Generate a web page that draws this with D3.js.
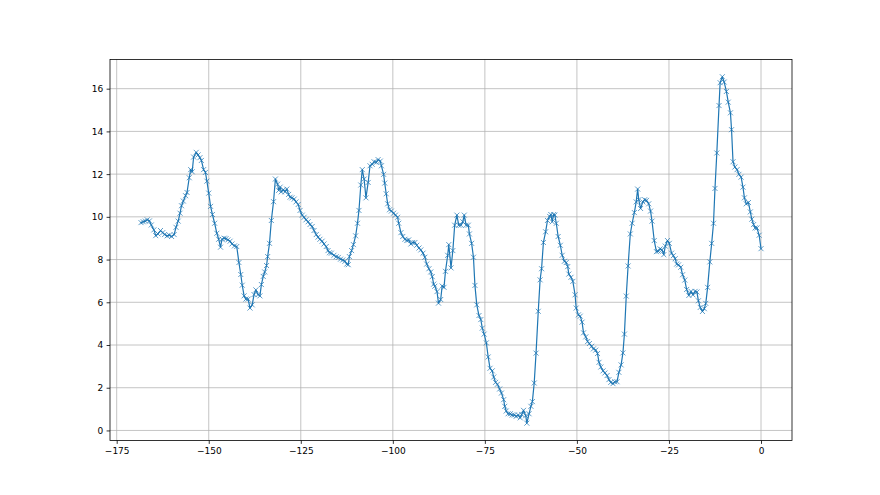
<!DOCTYPE html>
<html>
<head>
<meta charset="utf-8">
<script src="https://cdn.jsdelivr.net/npm/d3@7"></script>
<style>
  html, body { margin: 0; padding: 0; background: #fff; }
  svg { display: block; }
  .axis text { font-family: "DejaVu Sans", sans-serif; font-size: 9px; fill: #000; }
  .axis path, .axis line { stroke: #000; stroke-width: 0.8; }
  .grid line { stroke: #b0b0b0; stroke-width: 0.75; }
</style>
</head>
<body>
<div id="chart"></div>
<script>
// hours before now
var hours = [
  -168.4, -167.8, -167.2, -166.7, -166.1, -165.6, -164.9, -164.4, -163.8, -163.1,
  -162.5, -162.0, -161.3, -160.7, -160.1, -159.4, -158.9, -158.3, -157.8, -157.4,
  -156.9, -156.3, -155.9, -155.3, -154.9, -154.5, -154.1, -153.4, -152.9, -152.4,
  -152.0, -151.4, -150.9, -150.5, -150.0, -149.5, -149.0, -148.4, -147.8, -147.3,
  -146.8, -146.4, -145.8, -145.3, -144.8, -144.2, -143.7, -143.0, -142.4, -141.8,
  -141.3, -140.9, -140.4, -139.9, -139.3, -138.8, -138.2, -137.7, -137.2, -136.6,
  -136.1, -135.7, -135.2, -134.8, -134.3, -134.0, -133.5, -133.0, -132.4, -131.9,
  -131.3, -131.0, -130.6, -130.3, -129.7, -129.3, -128.8, -128.3, -127.9, -127.4,
  -126.8, -126.3, -125.7, -125.2, -124.6, -124.1, -123.6, -123.0, -122.5, -121.9,
  -121.4, -120.8, -120.3, -119.8, -119.2, -118.7, -118.1, -117.6, -117.2, -116.7,
  -116.0, -115.4, -114.8, -114.2, -113.6, -113.0, -112.5, -112.1, -111.8, -111.2,
  -110.7, -110.1, -109.6, -109.2, -108.7, -108.3, -107.8, -107.3, -106.7, -106.2,
  -105.6, -105.1, -104.5, -104.0, -103.4, -103.1, -102.5, -102.2, -101.8, -101.4,
  -100.9, -100.4, -99.8, -99.3, -98.7, -98.4, -97.8, -97.3, -96.7, -96.2,
  -95.7, -95.1, -94.6, -94.0, -93.5, -92.9, -92.4, -91.8, -91.3, -90.8,
  -90.2, -89.7, -89.3, -88.9, -88.6, -88.0, -87.6, -87.0, -86.6, -86.1,
  -85.7, -85.1, -84.8, -84.2, -83.7, -83.2, -82.6, -82.1, -81.5, -81.0,
  -80.6, -80.1, -79.5, -79.2, -78.6, -78.1, -77.7, -77.2, -76.6, -76.1,
  -75.7, -75.2, -74.6, -74.1, -73.6, -73.0, -72.6, -72.1, -71.6, -71.0,
  -70.5, -69.9, -69.6, -69.2, -68.7, -68.1, -67.6, -67.0, -66.5, -65.9,
  -65.4, -65.0, -64.5, -63.9, -63.6, -63.0, -62.5, -62.1, -61.6, -61.1,
  -60.5, -60.0, -59.6, -59.1, -58.5, -58.0, -57.4, -57.1, -56.7, -56.3,
  -56.0, -55.6, -55.1, -54.5, -54.0, -53.4, -52.9, -52.5, -52.2, -51.6,
  -51.1, -50.5, -50.2, -49.6, -49.1, -48.6, -48.2, -47.6, -47.1, -46.6,
  -46.0, -45.5, -44.9, -44.4, -44.0, -43.5, -42.9, -42.4, -41.8, -41.3,
  -40.8, -40.2, -39.7, -39.1, -38.6, -38.0, -37.5, -37.1, -36.6, -36.1,
  -35.5, -35.0, -34.4, -33.9, -33.5, -33.2, -32.7, -32.1, -31.6, -31.1,
  -30.5, -30.0, -29.6, -29.0, -28.4, -27.9, -27.4, -26.9, -26.4, -26.0,
  -25.4, -24.9, -24.3, -23.8, -23.3, -22.9, -22.4, -21.8, -21.3, -20.7,
  -20.2, -19.6, -19.0, -18.5, -17.9, -17.4, -17.0, -16.5, -15.9, -15.4,
  -15.0, -14.5, -13.9, -13.4, -12.9, -12.5, -12.0, -11.4, -11.1, -10.5,
  -10.0, -9.4, -8.9, -8.3, -8.0, -7.6, -7.1, -6.5, -6.0, -5.4,
  -4.9, -4.5, -4.0, -3.4, -2.9, -2.5, -2.0, -1.6, -1.1, -0.5,
  0.0
];

var values = [
  9.73, 9.77, 9.80, 9.86, 9.81, 9.62, 9.39, 9.12, 9.20, 9.36,
  9.26, 9.17, 9.11, 9.14, 9.08, 9.17, 9.51, 9.80, 10.17, 10.52,
  10.74, 10.99, 11.14, 11.83, 12.21, 12.11, 12.80, 13.02, 12.90, 12.77,
  12.64, 12.21, 12.08, 11.67, 11.11, 10.49, 10.11, 9.70, 9.23, 8.95,
  8.58, 8.95, 9.00, 8.98, 8.92, 8.86, 8.73, 8.64, 8.61, 7.86,
  7.30, 6.80, 6.30, 6.15, 6.15, 5.73, 5.88, 6.36, 6.58, 6.36,
  6.30, 6.83, 7.21, 7.42, 7.72, 8.14, 8.76, 9.83, 10.71, 11.77,
  11.53, 11.24, 11.39, 11.17, 11.27, 11.17, 11.30, 11.05, 10.92, 10.89,
  10.83, 10.70, 10.58, 10.30, 10.08, 9.98, 9.86, 9.77, 9.64, 9.55,
  9.36, 9.17, 9.05, 8.95, 8.86, 8.73, 8.61, 8.42, 8.32, 8.30,
  8.20, 8.13, 8.10, 8.02, 7.98, 7.92, 7.79, 7.76, 8.14, 8.42,
  8.70, 9.11, 9.70, 10.30, 11.49, 12.21, 11.77, 10.89, 11.61, 12.39,
  12.46, 12.58, 12.55, 12.68, 12.61, 12.39, 11.99, 11.58, 11.08, 10.61,
  10.33, 10.27, 10.17, 10.08, 9.98, 9.70, 9.26, 9.08, 8.95, 8.89,
  8.92, 8.73, 8.80, 8.80, 8.67, 8.54, 8.45, 8.30, 8.11, 7.79,
  7.57, 7.42, 7.20, 6.85, 6.75, 6.50, 5.96, 6.13, 6.76, 6.70,
  7.45, 8.20, 8.70, 7.61, 8.42, 9.61, 10.08, 9.61, 9.61, 9.77,
  10.08, 9.61, 9.61, 9.20, 8.76, 8.11, 6.79, 5.88, 5.38, 5.19,
  4.79, 4.51, 4.10, 3.44, 2.91, 2.79, 2.50, 2.25, 2.16, 1.94,
  1.75, 1.44, 1.13, 0.91, 0.78, 0.78, 0.72, 0.72, 0.66, 0.72,
  0.59, 0.75, 0.94, 0.69, 0.34, 0.78, 1.13, 1.35, 2.22, 3.62,
  5.58, 7.05, 7.57, 8.80, 9.30, 9.83, 10.02, 10.11, 9.77, 10.11,
  10.08, 9.70, 9.08, 8.67, 8.20, 7.92, 7.86, 7.67, 7.32, 7.17,
  6.98, 6.35, 5.73, 5.41, 5.35, 5.07, 4.57, 4.38, 4.16, 4.07,
  3.94, 3.82, 3.76, 3.60, 3.19, 2.97, 2.79, 2.69, 2.57, 2.38,
  2.25, 2.19, 2.28, 2.28, 2.72, 3.07, 3.63, 4.51, 6.29, 7.70,
  9.20, 9.70, 10.20, 10.70, 11.30, 10.80, 10.39, 10.70, 10.80, 10.77,
  10.61, 10.27, 9.80, 8.89, 8.37, 8.39, 8.50, 8.45, 8.23, 8.63,
  8.89, 8.76, 8.30, 8.18, 8.04, 7.79, 7.75, 7.64, 7.29, 7.04,
  6.60, 6.32, 6.51, 6.35, 6.51, 6.48, 6.07, 5.76, 5.57, 5.70,
  5.95, 6.70, 7.89, 8.76, 9.70, 11.33, 12.99, 15.21, 16.28, 16.56,
  16.31, 15.87, 15.37, 14.87, 14.08, 12.58, 12.33, 12.21, 11.99, 11.86,
  11.39, 10.89, 10.61, 10.67, 10.23, 9.89, 9.64, 9.48, 9.48, 9.14,
  8.51
];

var xTicks = [-175, -150, -125, -100, -75, -50, -25, 0];
var yTicks = [0, 2, 4, 6, 8, 10, 12, 14, 16];

var width = 880,
    height = 495;
var margin = {top: 59.4, right: 88, bottom: 54.5, left: 110};
var w = width - margin.left - margin.right,
    h = height - margin.top - margin.bottom;

var data = hours.map(function (d, i) { return {x: d, y: values[i]}; });

// matplotlib style 5% padding
var xExt = d3.extent(hours), yExt = d3.extent(values);
var xPad = (xExt[1] - xExt[0]) * 0.05, yPad = (yExt[1] - yExt[0]) * 0.05;

var x = d3.scaleLinear().domain([xExt[0] - xPad, xExt[1] + xPad]).range([0, w]),
    y = d3.scaleLinear().domain([yExt[0] - yPad, yExt[1] + yPad]).range([h, 0]);

var svg = d3.select("#chart")
  .append("svg")
  .attr("width", width)
  .attr("height", height);

var g = svg.append("g")
  .attr("transform", "translate(" + margin.left + "," + margin.top + ")");

var minus = function (d) { return d < 0 ? "\u2212" + Math.abs(d) : "" + d; };

// grid
g.append("g")
  .attr("class", "grid")
  .selectAll("line.gx")
  .data(xTicks.filter(function (d) { return x(d) >= 0 && x(d) <= w; }))
  .enter().append("line")
  .attr("x1", function (d) { return x(d); })
  .attr("x2", function (d) { return x(d); })
  .attr("y1", 0)
  .attr("y2", h);

g.append("g")
  .attr("class", "grid")
  .selectAll("line.gy")
  .data(yTicks)
  .enter().append("line")
  .attr("x1", 0)
  .attr("x2", w)
  .attr("y1", function (d) { return y(d); })
  .attr("y2", function (d) { return y(d); });

var line = d3.line()
  .x(function (d) { return x(d.x); })
  .y(function (d) { return y(d.y); });

g.append("path")
  .datum(data)
  .attr("fill", "none")
  .attr("stroke", "#1f77b4")
  .attr("stroke-width", 1.2)
  .attr("stroke-linejoin", "round")
  .attr("stroke-linecap", "square")
  .attr("d", line);

var ms = 2.5;
g.append("g")
  .selectAll("path.mk")
  .data(data)
  .enter().append("path")
  .attr("fill", "none")
  .attr("stroke", "#1f77b4")
  .attr("stroke-width", 0.8)
  .attr("stroke-opacity", 0.9)
  .attr("d", function (d) {
    var cx = x(d.x), cy = y(d.y);
    return "M" + (cx - ms) + "," + (cy - ms) + "L" + (cx + ms) + "," + (cy + ms) +
           "M" + (cx - ms) + "," + (cy + ms) + "L" + (cx + ms) + "," + (cy - ms);
  });

// axes
g.append("g")
  .attr("class", "axis axis--x")
  .attr("transform", "translate(0," + h + ")")
  .call(d3.axisBottom(x).tickValues(xTicks).tickFormat(minus).tickSize(3.4).tickPadding(3.4).tickSizeOuter(0))
  .select(".domain").remove();

g.append("g")
  .attr("class", "axis axis--y")
  .call(d3.axisLeft(y).tickValues(yTicks).tickFormat(minus).tickSize(3.4).tickPadding(3.4).tickSizeOuter(0))
  .select(".domain").remove();

// spines
g.append("rect")
  .attr("x", 0)
  .attr("y", 0)
  .attr("width", w)
  .attr("height", h)
  .attr("fill", "none")
  .attr("stroke", "#000")
  .attr("stroke-width", 0.8);
</script>
</body>
</html>
